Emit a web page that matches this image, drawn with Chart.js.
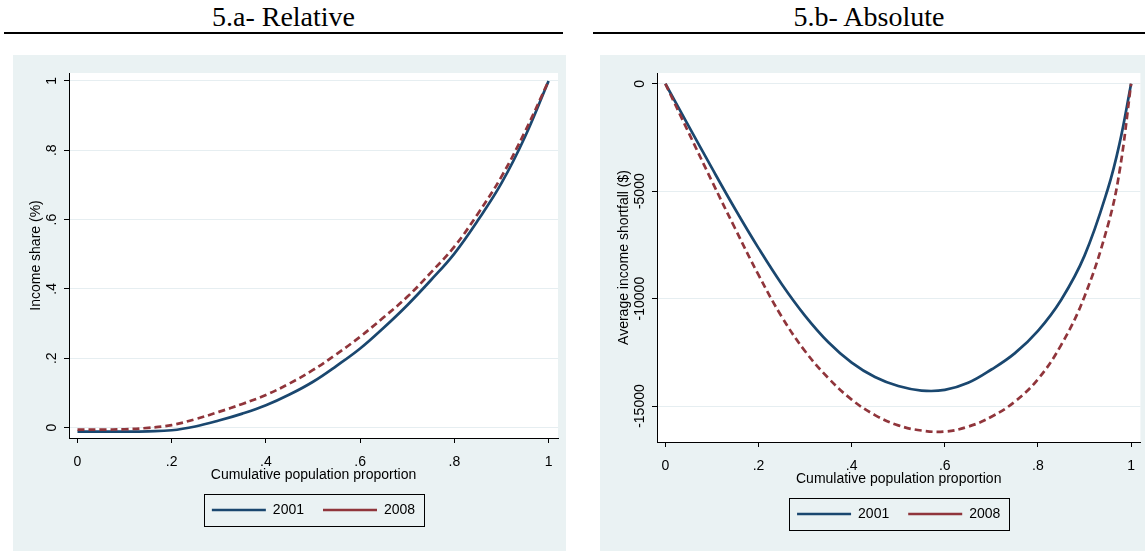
<!DOCTYPE html>
<html>
<head>
<meta charset="utf-8">
<script src="https://cdn.jsdelivr.net/npm/chart.js@4"></script>
<style>
    html, body { margin: 0; padding: 0; background: #fff; overflow: hidden; width: 1145px; height: 551px; }
    .ttl { position: absolute; top: 0; height: 34px; line-height: 34px; text-align: center; color: #000;
           font-family: "Liberation Serif", "Times New Roman", serif; font-size: 28px; }
    .rule { position: absolute; top: 32px; height: 2px; background: #000; }
    .pane { position: absolute; top: 55px; height: 496px; background: #eaf2f3; }
    canvas { display: block; }
</style>
</head>
<body>
<div class="ttl" style="left:4px;width:559px">5.a- Relative</div>
<div class="rule" style="left:4px;width:559px"></div>
<div class="ttl" style="left:593px;width:552px">5.b- Absolute</div>
<div class="rule" style="left:593px;width:552px"></div>

<div class="pane" style="left:13px;width:553px"><canvas id="relChart" width="553" height="496"></canvas></div>
<div class="pane" style="left:600px;width:546px"><canvas id="absChart" width="546" height="496"></canvas></div>

<script>
// 5.a relative curve (income share)
let popRel  = [0, .05, .1, .15, .2, .25, .3, .35, .4, .45, .5, .55, .6, .65, .7, .75, .8, .85, .9, .95, 1];
let rel2001 = [-.012, -.012, -.012, -.011, -.008, .003, .020, .040, .064, .095, .132, .178, .228, .288, .353, .425, .502, .598, .705, .839, 1];
let rel2008 = [-.006, -.006, -.005, -.001, .007, .024, .045, .068, .094, .127, .166, .212, .262, .318, .377, .447, .522, .617, .724, .854, 1];

// 5.b absolute curve (average shortfall, $)
let popAbs  = [0, .05, .1, .15, .2, .25, .3, .35, .4, .45, .5, .55, .6, .65, .7, .75, .8, .85, .9, .95, .975, 1];
let abs2001 = [0, -1970, -3930, -5840, -7650, -9330, -10800, -12030, -12980, -13650, -14070, -14280, -14250, -13920, -13300, -12550, -11500, -10050, -8000, -4900, -2800, 0];
let abs2008 = [0, -2280, -4540, -6750, -8900, -10850, -12450, -13700, -14700, -15420, -15900, -16140, -16190, -15960, -15500, -14800, -13750, -12150, -9900, -6600, -4100, 0];

let xTicks   = [0, .2, .4, .6, .8, 1];
let relTicks = [0, .2, .4, .6, .8, 1];
let absTicks = [0, -5000, -10000, -15000];
let years    = ["2001", "2008"];

let blue = "#1a476f";
let red  = "#90353b";
let fam  = "'Liberation Sans', Arial, sans-serif";
let legendPad = 19;

Chart.defaults.font.family = fam;
Chart.defaults.font.size = 14;
Chart.defaults.color = "#000";

// stata style numbers: .2 instead of 0.2
function stataNum(v) {
    let s = String(Math.round(v * 100) / 100);
    return s.replace(/^0\./, ".").replace(/^-0\./, "-.");
}

function points(xs, ys) {
    return xs.map((x, i) => ({ x: x, y: ys[i] }));
}

// white plot region, rotated y labels, framed legend
const stataLook = {
    id: "stataLook",
    beforeDraw(chart) {
        let a = chart.chartArea;
        let ctx = chart.ctx;
        ctx.save();
        ctx.fillStyle = "#fff";
        ctx.fillRect(a.left, a.top, a.right - a.left, a.bottom - a.top);
        ctx.restore();
        // legend centred under the plot region
        let lg = chart.legend;
        let shift = (a.left + a.right) / 2 - (lg.left + lg.right) / 2;
        lg.left += shift;
        lg.right += shift;
    },
    afterDraw(chart) {
        let ctx = chart.ctx;
        let y = chart.scales.y;
        let a = chart.chartArea;
        ctx.save();
        ctx.font = "14px " + fam;
        ctx.fillStyle = "#000";
        ctx.textAlign = "center";
        ctx.textBaseline = "middle";
        y.ticks.forEach(t => {
            ctx.save();
            ctx.translate(y.right - 17, y.getPixelForValue(t.value));
            ctx.rotate(-Math.PI / 2);
            ctx.fillText(stataNum(t.value), 0, 0);
            ctx.restore();
        });
        let lg = chart.legend;
        let cx = (a.left + a.right) / 2;
        let mid = lg.top + legendPad + 7;
        ctx.strokeStyle = "#000";
        ctx.lineWidth = 1;
        ctx.strokeRect(Math.round(cx - 110) + .5, Math.round(mid - 16) + .5, 220, 32);
        ctx.restore();
    }
};

function makePanel(id, xs, s1, s2, yTicks, yMin, yMax, yTitle, pad) {
    let ctx = document.getElementById(id).getContext("2d");
    return new Chart(ctx, {
        type: "line",
        data: {
            datasets: [{
                label: years[0],
                data: points(xs, s1),
                borderColor: blue,
                borderWidth: 2.7,
                pointRadius: 0,
                tension: 0.4,
                order: 1
            }, {
                label: years[1],
                data: points(xs, s2),
                borderColor: red,
                borderWidth: 2.7,
                borderDash: [7, 4],
                pointRadius: 0,
                tension: 0.4,
                order: 0
            }]
        },
        options: {
            responsive: false,
            animation: false,
            layout: { padding: pad },
            plugins: {
                tooltip: { enabled: false },
                legend: {
                    position: "bottom",
                    labels: {
                        usePointStyle: true,
                        pointStyle: "line",
                        pointStyleWidth: 54,
                        padding: legendPad,
                        color: "#000",
                        font: { size: 14 },
                        sort: (a, b) => a.datasetIndex - b.datasetIndex
                    }
                }
            },
            scales: {
                x: {
                    type: "linear",
                    min: -0.018,
                    max: 1.02,
                    afterBuildTicks: s => { s.ticks = xTicks.map(v => ({ value: v })); },
                    afterFit: s => { s.height = 46; },
                    grid: { drawOnChartArea: false, tickLength: 5, tickColor: "#000" },
                    border: { color: "#000" },
                    ticks: { padding: 11, maxRotation: 0, autoSkip: false, callback: v => stataNum(v) },
                    title: { display: true, text: "Cumulative population proportion", padding: 0 }
                },
                y: {
                    min: yMin,
                    max: yMax,
                    afterBuildTicks: s => { s.ticks = yTicks.map(v => ({ value: v })); },
                    afterFit: s => { s.width = 41; },
                    grid: { color: "#e6eef1", tickLength: 5, tickColor: "#000" },
                    border: { color: "#000" },
                    ticks: { display: false },
                    title: { display: true, text: yTitle, padding: 0 }
                }
            }
        },
        plugins: [stataLook]
    });
}

makePanel("relChart", popRel, rel2001, rel2008, relTicks, -0.0303, 1.023, "Income share (%)",
    { left: 15, right: 8, top: 18, bottom: 24 });
makePanel("absChart", popAbs, abs2001, abs2008, absTicks, -16674, 500, "Average income shortfall ($)",
    { left: 16, right: 0, top: 18, bottom: 20 });
</script>
</body>
</html>
